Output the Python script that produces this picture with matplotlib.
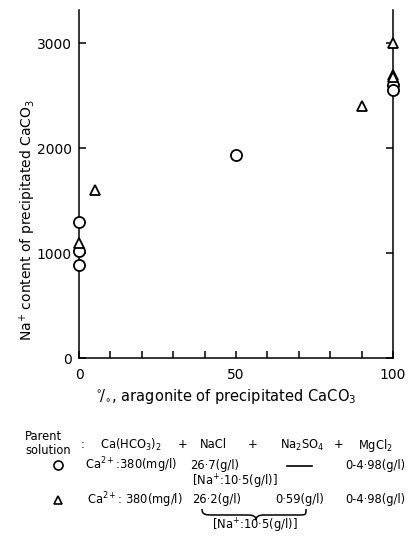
import matplotlib
matplotlib.use("Agg")
from matplotlib import pyplot as plt
from matplotlib.lines import Line2D
from matplotlib.path import Path
from matplotlib.patches import PathPatch

# data
circle_x = [0, 0, 0, 50, 100, 100]
circle_y = [1300, 1020, 890, 1930, 2600, 2550]
tri_x = [0, 5, 90, 100, 100, 100]
tri_y = [1100, 1600, 2400, 3000, 2700, 2680]

x_major = [0, 50, 100]
x_minor = [10, 20, 30, 40, 60, 70, 80, 90]
y_major = [0, 1000, 2000, 3000]

W, H = 416, 536
plt.rcParams['font.family'] = ['DejaVu Sans']


def fx(x):
    return x / W


def fy(y):
    return 1 - y / H


fig = plt.figure(figsize=(W / 100, H / 100), dpi=100)
ax = fig.add_axes([fx(79), fy(358), (393 - 79) / W, (358 - 10) / H])

ax.plot(circle_x, circle_y, ls='none', marker='o', ms=8, mfc='white',
        mec='black', mew=1.3, clip_on=False, zorder=5)
ax.plot(tri_x, tri_y, ls='none', marker='^', ms=7, mfc='white',
        mec='black', mew=1.3, clip_on=False, zorder=5)

ax.set_xlim(0, 100)
ax.set_ylim(0, 3315)
ax.spines['top'].set_visible(False)
for s in ['left', 'bottom', 'right']:
    ax.spines[s].set_linewidth(1.1)

ax.set_xticks(x_major)
ax.set_xticks(x_minor, minor=True)
ax.set_yticks(y_major)
ax.tick_params(axis='x', which='both', direction='in', length=5, width=1.1,
               pad=7, labelsize=10)
ax.tick_params(axis='y', which='both', direction='in', length=5, width=1.1,
               pad=5, labelsize=10, right=True)

fig.text(fx(28), fy(220), 'Na$^{+}$ content of precipitated CaCO$_3$',
         rotation=90, ha='center', va='center', fontsize=10)
fig.text(fx(226), fy(397), r'$^{\circ}\!/_{\circ}$, aragonite of precipitated CaCO$_3$',
         ha='center', va='center', fontsize=10.5)

# composition table under the plot
fs = 8.3


def txt(x, y, s, **kw):
    fig.text(fx(x), fy(y), s, ha='left', va='center', fontsize=fs, **kw)


txt(25, 437, 'Parent')
txt(25, 451, 'solution')
txt(81, 445, ':')
txt(100, 445, 'Ca(HCO$_3$)$_2$')
txt(178, 445, '+')
txt(200, 445, 'NaCl')
txt(248, 445, '+')
txt(280, 445, 'Na$_2$SO$_4$')
txt(334, 445, '+')
txt(358, 445, 'MgCl$_2$')

fig.add_artist(Line2D([fx(58)], [fy(465)], marker='o', ms=6.5, mfc='white',
                      mec='black', mew=1.2, transform=fig.transFigure))
txt(85, 465, 'Ca$^{2+}$:380(mg/l)')
txt(190, 465, '26·7(g/l)')
fig.add_artist(Line2D([fx(287), fx(312)], [fy(466), fy(466)], color='black',
                      lw=1.2, transform=fig.transFigure))
txt(345, 465, '0-4·98(g/l)')
txt(192, 482, '[Na$^{+}$:10·5(g/l)]')

fig.add_artist(Line2D([fx(58)], [fy(500)], marker='^', ms=6, mfc='white',
                      mec='black', mew=1.2, transform=fig.transFigure))
txt(87, 500, 'Ca$^{2+}$: 380(mg/l)')
txt(192, 500, '26·2(g/l)')
txt(275, 500, '0·59(g/l)')
txt(345, 500, '0-4·98(g/l)')

# curly brace joining NaCl and Na2SO4
pts = [(202, 509), (202, 515), (206, 515), (214, 515), (248, 515),
       (254, 515), (256, 517), (256, 520), (256, 517), (258, 515), (264, 515),
       (298, 515), (306, 515), (306, 515), (306, 509)]
codes = [Path.MOVETO, Path.CURVE4, Path.CURVE4, Path.CURVE4, Path.LINETO,
         Path.CURVE4, Path.CURVE4, Path.CURVE4, Path.CURVE4, Path.CURVE4,
         Path.CURVE4, Path.LINETO, Path.CURVE4, Path.CURVE4, Path.CURVE4]
brace = Path([(fx(a), fy(b)) for a, b in pts], codes)
fig.add_artist(PathPatch(brace, fc='none', ec='black', lw=1.1,
                         transform=fig.transFigure))
txt(212, 526, '[Na$^{+}$:10·5(g/l)]')

fig.savefig('out.png', dpi=100)
